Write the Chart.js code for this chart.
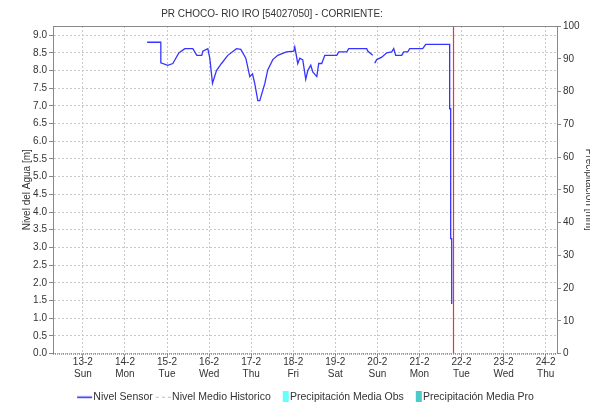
<!DOCTYPE html>
<html>
<head>
<meta charset="utf-8">
<script src="https://cdn.jsdelivr.net/npm/chart.js@4.4.0/dist/chart.umd.min.js"></script>
<style>
html, body { margin: 0; padding: 0; background: #fff; overflow: hidden; }
#wrap { position: relative; width: 596px; height: 402px; }
</style>
</head>
<body>
<div id="wrap"><canvas id="nivelChart"></canvas></div>
<script>
var titulo = 'PR CHOCO- RIO IRO [54027050] - CORRIENTE:';

// dias de febrero en el eje x
var diasEje = [13, 14, 15, 16, 17, 18, 19, 20, 21, 22, 23, 24];
var nombresDia = ['Sun', 'Mon', 'Tue', 'Wed', 'Thu', 'Fri', 'Sat', 'Sun', 'Mon', 'Tue', 'Wed', 'Thu'];
var nivelTicks = [0, 0.5, 1, 1.5, 2, 2.5, 3, 3.5, 4, 4.5, 5, 5.5, 6, 6.5, 7, 7.5, 8, 8.5, 9];
var precipTicks = [0, 10, 20, 30, 40, 50, 60, 70, 80, 90, 100];

// Nivel Sensor: tiempo (dia decimal de febrero) y nivel [m]
var sensorTiempo = [14.528, 14.853, 14.853, 15.019, 15.138, 15.281, 15.423, 15.613, 15.708, 15.827,
  15.851, 15.970, 16.017, 16.081, 16.176, 16.295, 16.445, 16.652, 16.754, 16.873,
  16.968, 17.032, 17.086, 17.158, 17.205, 17.324, 17.395, 17.514, 17.633, 17.840,
  18.013, 18.037, 18.108, 18.156, 18.227, 18.298, 18.346, 18.417, 18.465, 18.560,
  18.607, 18.678, 18.750, 19.035, 19.082, 19.272, 19.320, 19.747, 19.771, 19.890,
  19.914, 19.938, 19.985, 20.104, 20.223, 20.341, 20.389, 20.436, 20.579, 20.626,
  20.722, 20.769, 21.078, 21.149, 21.719, 21.719, 21.743, 21.743, 21.767, 21.767];
var sensorNivel = [8.80, 8.80, 8.22, 8.15, 8.20, 8.50, 8.62, 8.62, 8.43, 8.43,
  8.55, 8.62, 8.35, 7.64, 8.00, 8.20, 8.43, 8.62, 8.60, 8.35,
  7.83, 7.91, 7.63, 7.15, 7.15, 7.63, 8.02, 8.31, 8.43, 8.53,
  8.55, 8.67, 8.20, 8.35, 8.30, 7.75, 8.00, 8.15, 7.96, 7.83,
  8.20, 8.20, 8.43, 8.43, 8.53, 8.53, 8.62, 8.62, 8.55, 8.43,
  null, 8.21, 8.31, 8.38, 8.50, 8.53, 8.62, 8.43, 8.43, 8.53,
  8.53, 8.62, 8.62, 8.74, 8.74, 6.92, 6.92, 3.25, 3.25, 1.40];

var nivelHistorico = [];
var precipObs = [];
var precipPro = [];
var ahora = 21.81;
var nivelMax = 9.26;

var fuente = '"Liberation Sans", Arial, sans-serif';
Chart.defaults.font.family = fuente;
Chart.defaults.font.size = 10;
Chart.defaults.color = '#333';

// iconos de la leyenda (linea, guiones o caja)
function icono(tipo, color) {
  var c = document.createElement('canvas');
  c.width = 40; c.height = 12;
  var g = c.getContext('2d');
  if (tipo === 'linea' || tipo === 'guion') {
    g.strokeStyle = color;
    g.lineWidth = tipo === 'linea' ? 1.5 : 1;
    if (tipo === 'guion') g.setLineDash([3, 3]);
    g.beginPath(); g.moveTo(15, 6.5); g.lineTo(30, 6.5); g.stroke();
  } else {
    g.fillStyle = color;
    g.fillRect(24, 0, 6, 12);
  }
  return c;
}

var marco = {
  id: 'marco',
  afterDraw: function (chart) {
    var a = chart.chartArea, ctx = chart.ctx;
    ctx.save();
    ctx.strokeStyle = '#888';
    ctx.lineWidth = 1;
    ctx.beginPath(); ctx.moveTo(a.left, a.top + 0.5); ctx.lineTo(a.right, a.top + 0.5); ctx.stroke();
    ctx.strokeStyle = '#555';
    ctx.setLineDash([1, 1]);
    ctx.beginPath(); ctx.moveTo(a.left, a.bottom + 0.5); ctx.lineTo(a.right, a.bottom + 0.5); ctx.stroke();
    ctx.setLineDash([]);
    ctx.font = '10px ' + fuente;
    ctx.fillStyle = '#333';
    ctx.textAlign = 'center';
    ctx.textBaseline = 'middle';
    ctx.fillText(titulo, 272, 14);
    ctx.restore();
  }
};

var ctx = document.getElementById('nivelChart').getContext('2d');
var nivelChart = new Chart(ctx, {
  type: 'line',
  data: {
    datasets: [{
      label: 'Nivel Sensor',
      data: sensorTiempo.map(function (t, i) { return { x: t, y: sensorNivel[i] }; }),
      borderColor: '#3535ff',
      borderWidth: 1.3,
      pointRadius: 0,
      spanGaps: false,
      yAxisID: 'y',
      icon: icono('linea', '#2020ff')
    }, {
      label: 'Nivel Medio Historico',
      data: nivelHistorico,
      borderColor: '#bbbbbb',
      borderDash: [3, 3],
      borderWidth: 1,
      pointRadius: 0,
      yAxisID: 'y',
      icon: icono('guion', '#bbbbbb')
    }, {
      label: 'Precipitación Media Obs',
      type: 'bar',
      data: precipObs,
      backgroundColor: '#66ffff',
      yAxisID: 'y1',
      icon: icono('caja', '#66ffff')
    }, {
      label: 'Precipitación Media Pro',
      type: 'bar',
      data: precipPro,
      backgroundColor: '#4cc9c9',
      yAxisID: 'y1',
      icon: icono('caja', '#4cc9c9')
    }, {
      label: 'ahora',
      data: [{ x: ahora, y: 0 }, { x: ahora, y: nivelMax }],
      borderColor: '#ff2a2a',
      borderWidth: 1.2,
      pointRadius: 0,
      yAxisID: 'y'
    }]
  },
  options: {
    responsive: true,
    maintainAspectRatio: false,
    animation: false,
    layout: { padding: { top: 26, bottom: -10, left: 0, right: 0 } },
    plugins: {
      title: { display: false },
      tooltip: { enabled: false },
      legend: {
        position: 'bottom',
        fullSize: false,
        labels: {
          usePointStyle: true,
          pointStyleWidth: 12,
          padding: 2,
          color: '#333',
          font: { size: 10.5 },
          generateLabels: function (chart) {
            return chart.data.datasets.filter(function (ds) { return ds.icon; }).map(function (ds, i) {
              return { text: ds.label, pointStyle: ds.icon, datasetIndex: i, hidden: false, lineWidth: 0, fontColor: '#333' };
            });
          }
        }
      }
    },
    scales: {
      x: {
        type: 'linear',
        offset: false,
        min: 12.29,
        max: 24.27,
        afterBuildTicks: function (s) { s.ticks = diasEje.map(function (v) { return { value: v }; }); },
        afterFit: function (s) { s.height = 36; },
        ticks: {
          autoSkip: false,
          maxRotation: 0,
          padding: -1,
          font: { size: 10, lineHeight: 1.15 },
          callback: function (v, i) { return [v + '-2', nombresDia[i]]; }
        },
        grid: { offset: false, color: '#c8c8c8', tickLength: 4, tickColor: '#999', tickBorderDash: [] },
        border: { display: false, dash: [2, 2] }
      },
      y: {
        position: 'left',
        min: 0,
        max: nivelMax,
        afterBuildTicks: function (s) { s.ticks = nivelTicks.map(function (v) { return { value: v }; }); },
        afterFit: function (s) { s.width = 53; },
        ticks: { padding: 2, callback: function (v) { return v.toFixed(1); } },
        grid: { color: '#c8c8c8', tickLength: 4, tickColor: '#888', tickBorderDash: [] },
        border: { color: '#888', dash: [2, 2] },
        title: { display: true, text: 'Nivel del Agua [m]', font: { size: 10 }, padding: { top: 21, bottom: 0 } }
      },
      y1: {
        position: 'right',
        min: 0,
        max: 100,
        afterBuildTicks: function (s) { s.ticks = precipTicks.map(function (v) { return { value: v }; }); },
        afterFit: function (s) { s.width = 39; },
        ticks: { padding: 2 },
        grid: { drawOnChartArea: false, tickLength: 4, tickColor: '#888' },
        border: { color: '#888' },
        title: { display: true, text: 'Precipitación [mm]', font: { size: 10 }, padding: { top: 1, bottom: 0 } }
      }
    }
  },
  plugins: [marco]
});
</script>
</body>
</html>
